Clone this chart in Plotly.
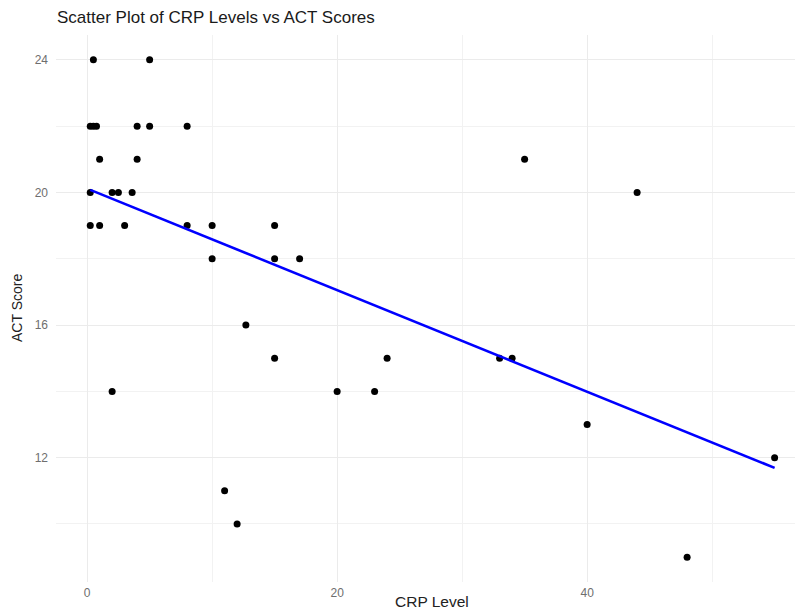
import numpy as np
import plotly.graph_objects as go

crp_level = [0.5, 5, 0.25, 0.5, 0.75, 4, 5, 8, 1, 4, 35, 0.25, 2, 2.5, 3.6, 44,
             0.25, 1, 3, 8, 10, 15, 10, 15, 17, 12.7, 15, 24, 33, 34, 2, 20, 23,
             40, 55, 11, 12, 48]
act_score = [24, 24, 22, 22, 22, 22, 22, 22, 21, 21, 21, 20, 20, 20, 20, 20,
             19, 19, 19, 19, 19, 19, 18, 18, 18, 16, 15, 15, 15, 15, 14, 14, 14,
             13, 12, 11, 10, 9]

x_ticks = [0, 20, 40]
y_ticks = [12, 16, 20, 24]

W, H = 795, 610
L, R, T, B = 56, 0, 35, 28
FONT = "Liberation Sans, Arial, sans-serif"

# linear fit (geom_smooth method = "lm")
xs = np.array(crp_level, dtype=float)
ys = np.array(act_score, dtype=float)
slope, intercept = np.polyfit(xs, ys, 1)
fit_x = [xs.min(), xs.max()]
fit_y = [intercept + slope * v for v in fit_x]

fig = go.Figure()
fig.add_trace(go.Scatter(
    x=crp_level, y=act_score, mode="markers",
    marker=dict(color="black", size=7, line=dict(width=0)),
    showlegend=False, hoverinfo="x+y",
))
fig.add_trace(go.Scatter(
    x=fit_x, y=fit_y, mode="lines",
    line=dict(color="#0000ff", width=2.6),
    showlegend=False, hoverinfo="skip",
))

plot_w = W - L - R
plot_h = H - T - B

fig.update_layout(
    width=W, height=H,
    margin=dict(l=L, r=R, t=T, b=B, pad=0, autoexpand=False),
    paper_bgcolor="white", plot_bgcolor="white",
    font=dict(family=FONT, color="#222222"),
    title=dict(
        text="Scatter Plot of CRP Levels vs ACT Scores",
        x=57 / W, xref="container", xanchor="left",
        y=1 - 17 / H, yref="container", yanchor="middle",
        font=dict(size=17, color="#1a1a1a", family=FONT),
    ),
    xaxis=dict(
        range=[-2.49, 56.63], automargin=False,
        tickmode="array", tickvals=x_ticks, ticktext=[str(v) for v in x_ticks],
        showgrid=True, gridcolor="#ebebeb", gridwidth=1.2,
        minor=dict(dtick=10, tick0=0, showgrid=True, gridcolor="#f2f2f2", gridwidth=0.7),
        zeroline=False, showline=False, ticks="",
        tickfont=dict(size=12, color="#6e6e6e", family=FONT),
        ticklabelstandoff=2,
    ),
    yaxis=dict(
        range=[8.25, 24.75], automargin=False,
        tickmode="array", tickvals=y_ticks, ticktext=[str(v) for v in y_ticks],
        showgrid=True, gridcolor="#ebebeb", gridwidth=1.2,
        minor=dict(dtick=2, tick0=0, showgrid=True, gridcolor="#f2f2f2", gridwidth=0.7),
        zeroline=False, showline=False, ticks="",
        tickfont=dict(size=12, color="#6e6e6e", family=FONT),
        ticklabelstandoff=7,
    ),
    annotations=[
        dict(text="CRP Level", xref="paper", yref="paper",
             x=(432 - L) / plot_w, y=-(601 - (H - B)) / plot_h,
             xanchor="center", yanchor="middle", showarrow=False,
             font=dict(size=15.5, color="#222222", family=FONT)),
        dict(text="ACT Score", xref="paper", yref="paper",
             x=(17 - L) / plot_w, y=1 - (308 - T) / plot_h,
             xanchor="center", yanchor="middle", showarrow=False, textangle=-90,
             font=dict(size=14, color="#222222", family=FONT)),
    ],
)

fig.write_html(
    "out.html",
    config={"displayModeBar": False},
    post_script="document.body.style.margin='0';document.body.style.overflow='hidden';",
)
